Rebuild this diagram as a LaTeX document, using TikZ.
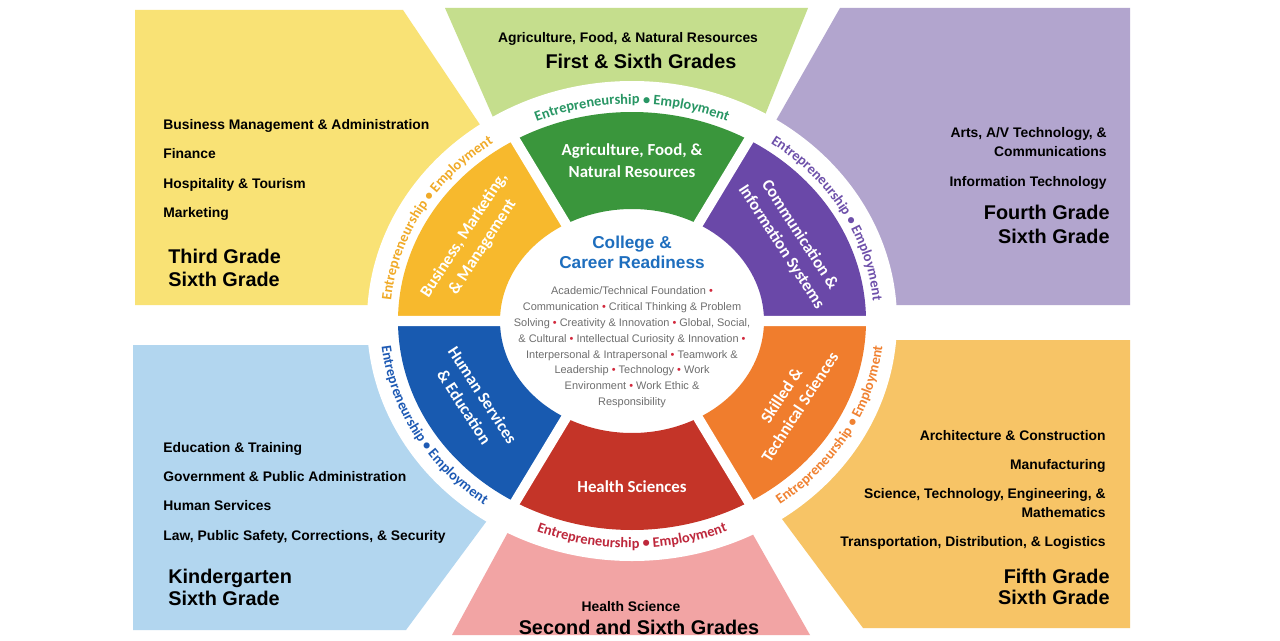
\documentclass[tikz,border=0pt]{standalone}
\usepackage{fontspec}
\setmainfont{Liberation Sans}
\newfontfamily\wheelfont{Carlito}
\usetikzlibrary{decorations.text}

\definecolor{panelyellow}{RGB}{249,226,117}
\definecolor{panelgreen}{RGB}{197,222,141}
\definecolor{panelpurple}{RGB}{178,165,206}
\definecolor{panelblue}{RGB}{178,214,239}
\definecolor{panelpink}{RGB}{242,164,164}
\definecolor{panelorange}{RGB}{247,196,102}
\definecolor{ringgreen}{RGB}{58,150,60}
\definecolor{ringyellow}{RGB}{247,185,45}
\definecolor{ringpurple}{RGB}{106,72,168}
\definecolor{ringorange}{RGB}{240,125,45}
\definecolor{ringred}{RGB}{196,52,40}
\definecolor{ringblue}{RGB}{24,90,176}
\definecolor{arcgreen}{RGB}{40,150,100}
\definecolor{arcyellow}{RGB}{240,170,40}
\definecolor{arcpurple}{RGB}{110,80,170}
\definecolor{arcorange}{RGB}{240,130,50}
\definecolor{arcred}{RGB}{190,40,60}
\definecolor{arcblue}{RGB}{30,90,180}
\definecolor{headblue}{RGB}{30,110,190}
\definecolor{bodygray}{RGB}{110,110,110}
\definecolor{bulletred}{RGB}{210,40,60}

\newcommand{\rb}{\textcolor{bulletred}{\textbullet}}
\newcommand{\arcfont}{\wheelfont\bfseries\fontsize{8.2}{9}\selectfont}

\begin{document}
\begin{tikzpicture}[x=0.02cm, y=0.02cm,
    item/.style={font=\bfseries\fontsize{7.9}{9}\selectfont, inner sep=0},
    grade/.style={font=\bfseries\fontsize{11.3}{13}\selectfont, inner sep=0},
    seglabel/.style={font=\wheelfont\bfseries\fontsize{9.6}{12.5}\selectfont, text=white, align=center, inner sep=0},
    gapline/.style={white, line width=5.7pt}]

    \useasboundingbox (0,0) rectangle (1280,640);
    \fill[white] (0,0) rectangle (1280,640);

    % --- Background panels ---
    \fill[panelyellow] (135,630) -- (403,630) -- (601,335) -- (135,335) -- cycle;
    \fill[panelgreen] (445,632) -- (808,632) -- (682,318) -- (583,318) -- cycle;
    \fill[panelpurple] (840,632) -- (1130,632) -- (1130,335) -- (671,335) -- cycle;
    \fill[panelblue] (133,295) -- (617,295) -- (406,10) -- (133,10) -- cycle;
    \fill[panelpink] (452,5) -- (618,310) -- (637,310) -- (810,5) -- cycle;
    \fill[panelorange] (649,300) -- (1130,300) -- (1130,12) -- (863,12) -- cycle;

    % --- Business panel (yellow) ---
    \node[item, anchor=base west] (bizmgmt) at (163,510) {Business Management \& Administration};
    \node[item, anchor=base west] (finance) at (163,481) {Finance};
    \node[item, anchor=base west] (hospitality) at (163,452) {Hospitality \& Tourism};
    \node[item, anchor=base west] (marketing) at (163,423) {Marketing};
    \node[grade, anchor=base west] (bizthird) at (168,377) {Third Grade};
    \node[grade, anchor=base west] (bizsixth) at (168,354) {Sixth Grade};

    % --- Agriculture panel (green) ---
    \node[item, anchor=base] (agriitem) at (628,597) {Agriculture, Food, \& Natural Resources};
    \node[grade, anchor=base] (agrigrade) at (641,571) {First \& Sixth Grades};

    % --- Communication panel (purple) ---
    \node[item, anchor=base east] (arts) at (1107,502) {Arts, A/V Technology, \&};
    \node[item, anchor=base east] (communications) at (1107,483) {Communications};
    \node[item, anchor=base east] (infotech) at (1107,454) {Information Technology};
    \node[grade, anchor=base east] (commfourth) at (1110,421) {Fourth Grade};
    \node[grade, anchor=base east] (commsixth) at (1110,397) {Sixth Grade};

    % --- Human services panel (blue) ---
    \node[item, anchor=base west] (education) at (163,188) {Education \& Training};
    \node[item, anchor=base west] (government) at (163,159) {Government \& Public Administration};
    \node[item, anchor=base west] (humanserv) at (163,130) {Human Services};
    \node[item, anchor=base west] (law) at (163,100) {Law, Public Safety, Corrections, \& Security};
    \node[grade, anchor=base west] (humankinder) at (168,57) {Kindergarten};
    \node[grade, anchor=base west] (humansixth) at (168,35) {Sixth Grade};

    % --- Skilled panel (orange) ---
    \node[item, anchor=base east] (architecture) at (1106,200) {Architecture \& Construction};
    \node[item, anchor=base east] (manufacturing) at (1106,171) {Manufacturing};
    \node[item, anchor=base east] (stem) at (1106,142) {Science, Technology, Engineering, \&};
    \node[item, anchor=base east] (mathematics) at (1106,123) {Mathematics};
    \node[item, anchor=base east] (transportation) at (1106,94) {Transportation, Distribution, \& Logistics};
    \node[grade, anchor=base east] (skillfifth) at (1110,57) {Fifth Grade};
    \node[grade, anchor=base east] (skillsixth) at (1110,36) {Sixth Grade};

    % --- Health panel (pink) ---
    \node[item, anchor=base] (healthitem) at (631,29) {Health Science};
    \node[grade, anchor=base] (healthgrade) at (639,6) {Second and Sixth Grades};

    % --- Wheel ---
    \begin{scope}[shift={(632,319)}]
        \fill[white] (0,0) ellipse [x radius=265, y radius=240];

        % ring segments
        \fill[ringgreen] (60:234 and 209) arc[start angle=60, end angle=120, x radius=234, y radius=209]
            -- (120:132 and 112) arc[start angle=120, end angle=60, x radius=132, y radius=112] -- cycle;
        \fill[ringyellow] (120:234 and 209) arc[start angle=120, end angle=180, x radius=234, y radius=209]
            -- (180:132 and 112) arc[start angle=180, end angle=120, x radius=132, y radius=112] -- cycle;
        \fill[ringblue] (180:234 and 209) arc[start angle=180, end angle=240, x radius=234, y radius=209]
            -- (240:132 and 112) arc[start angle=240, end angle=180, x radius=132, y radius=112] -- cycle;
        \fill[ringred] (240:234 and 209) arc[start angle=240, end angle=300, x radius=234, y radius=209]
            -- (300:132 and 112) arc[start angle=300, end angle=240, x radius=132, y radius=112] -- cycle;
        \fill[ringorange] (300:234 and 209) arc[start angle=300, end angle=360, x radius=234, y radius=209]
            -- (360:132 and 112) arc[start angle=360, end angle=300, x radius=132, y radius=112] -- cycle;
        \fill[ringpurple] (0:234 and 209) arc[start angle=0, end angle=60, x radius=234, y radius=209]
            -- (60:132 and 112) arc[start angle=60, end angle=0, x radius=132, y radius=112] -- cycle;

        % white gaps between segments
        \draw[gapline] (0:126 and 106) -- (0:240 and 215)
            (60:126 and 106) -- (60:240 and 215)
            (120:126 and 106) -- (120:240 and 215)
            (180:126 and 106) -- (180:240 and 215)
            (240:126 and 106) -- (240:240 and 215)
            (300:126 and 106) -- (300:240 and 215);

        % segment labels
        \node[seglabel] (agrilabel) at (90:183 and 160) {Agriculture, Food, \&\\Natural Resources};
        \node[seglabel, rotate=57] (bizlabel) at (150:183 and 160) {Business, Marketing,\\\& Management};
        \node[seglabel, rotate=-57] (commlabel) at (30:183 and 160) {Communication \&\\Information Systems};
        \node[seglabel, rotate=57] (skilllabel) at (-30:183 and 160) {Skilled \&\\Technical Sciences};
        \node[seglabel] (healthlabel) at (-90:183 and 166) {Health Sciences};
        \node[seglabel, rotate=-57] (humanlabel) at (210:183 and 160) {Human Services\\\& Education};

        % Entrepreneurship - Employment round the ring
        \path[decorate, decoration={text along path, text align=center,
            text={|\arcfont\color{arcyellow}|Entrepreneurship • Employment}}]
            (180:242 and 217) arc[start angle=180, end angle=120, x radius=242, y radius=217];
        \path[decorate, decoration={text along path, text align=center,
            text={|\arcfont\color{arcgreen}|Entrepreneurship • Employment}}]
            (120:242 and 217) arc[start angle=120, end angle=60, x radius=242, y radius=217];
        \path[decorate, decoration={text along path, text align=center,
            text={|\arcfont\color{arcpurple}|Entrepreneurship • Employment}}]
            (60:242 and 217) arc[start angle=60, end angle=0, x radius=242, y radius=217];
        \path[decorate, decoration={text along path, text align=center,
            text={|\arcfont\color{arcblue}|Entrepreneurship • Employment}}]
            (180:252 and 227) arc[start angle=180, end angle=240, x radius=252, y radius=227];
        \path[decorate, decoration={text along path, text align=center,
            text={|\arcfont\color{arcred}|Entrepreneurship • Employment}}]
            (240:252 and 227) arc[start angle=240, end angle=300, x radius=252, y radius=227];
        \path[decorate, decoration={text along path, text align=center,
            text={|\arcfont\color{arcorange}|Entrepreneurship • Employment}}]
            (300:252 and 227) arc[start angle=300, end angle=360, x radius=252, y radius=227];

        % centre text
        \node[font=\bfseries\fontsize{9.8}{11.3}\selectfont, text=headblue, align=center, inner sep=0]
            (ccrhead) at (0,69) {College \&\\Career Readiness};
        \node[font=\fontsize{6.24}{9.07}\selectfont, text=bodygray, align=center, inner sep=0, anchor=north]
            (ccrbody) at (0,35) {Academic/Technical Foundation \rb\\
            Communication \rb{} Critical Thinking \& Problem\\
            Solving \rb{} Creativity \& Innovation \rb{} Global, Social,\\
            \& Cultural \rb{} Intellectual Curiosity \& Innovation \rb\\
            Interpersonal \& Intrapersonal \rb{} Teamwork \&\\
            Leadership \rb{} Technology \rb{} Work\\
            Environment \rb{} Work Ethic \&\\
            Responsibility};
    \end{scope}

\end{tikzpicture}
\end{document}
